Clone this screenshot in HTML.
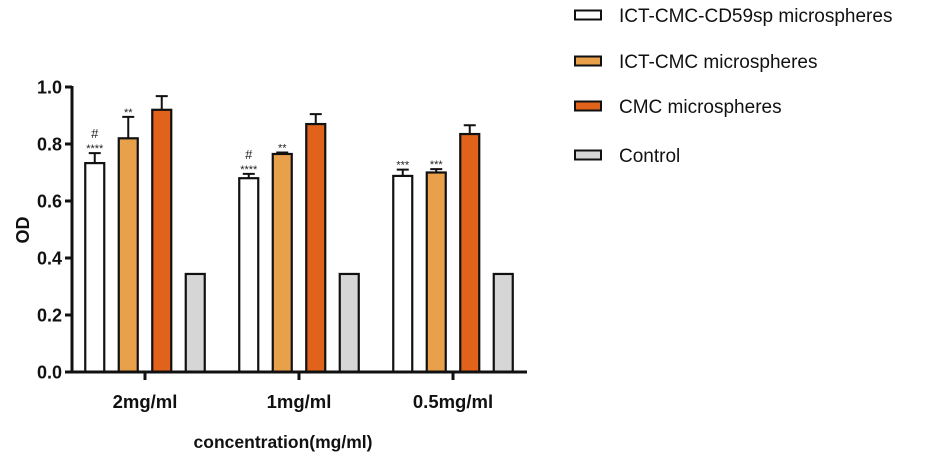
<!DOCTYPE html>
<html><head><meta charset="utf-8"><style>
html,body{margin:0;padding:0;background:#fff;}
svg{display:block;font-family:"Liberation Sans",Arial,sans-serif;}
</style></head><body>
<svg id="chart" width="949" height="466" viewBox="0 0 949 466"></svg>
<script>
const categories = ["2mg/ml","1mg/ml","0.5mg/ml"];
const seriesNames = ["ICT-CMC-CD59sp microspheres","ICT-CMC microspheres","CMC microspheres","Control"];
const seriesColors = ["#ffffff","#e8a04a","#e0621b","#d6d6d6"];
const valuesCD59 = [0.733,0.680,0.688];
const valuesICT = [0.820,0.765,0.700];
const valuesCMC = [0.920,0.870,0.835];
const valuesControl = [0.344,0.344,0.344];
const errCD59 = [0.035,0.015,0.022];
const errICT = [0.075,0.005,0.012];
const errCMC = [0.048,0.035,0.031];
const errControl = [0,0,0];
const annotations = [["#\n****","**","",""],["#\n****","**","",""],["***","***","",""]];
const yTicks = [0,0.2,0.4,0.6,0.8,1.0];
const yTickLabels = ["0.0","0.2","0.4","0.6","0.8","1.0"];

const allVals=[valuesCD59,valuesICT,valuesCMC,valuesControl];
const allErr=[errCD59,errICT,errCMC,errControl];
const NS="http://www.w3.org/2000/svg";
const svg=document.getElementById('chart');
const y0=372, yTop=87, xL=72, xR=527;
const yScale=v=>y0-(v/1.0)*(y0-yTop);
const groupCenter=i=>145+i*154;
const barW=19, pitch=33.5;
const barX=(g,s)=>groupCenter(g)+(s-1.5)*pitch-barW/2;
function mk(tag,attrs,parent){const e=document.createElementNS(NS,tag);for(const k in attrs)e.setAttribute(k,attrs[k]);(parent||svg).appendChild(e);return e;}

categories.forEach((c,g)=>{
  allVals.forEach((arr,s)=>{
    const x=barX(g,s), v=arr[g], yt=yScale(v);
    const b=mk('rect',{x:x,y:yt,width:barW,height:y0-yt,fill:seriesColors[s],stroke:'#111','stroke-width':2.2});
    
    
    const e=allErr[s][g];
    if(e>0){
      const cx=x+barW/2, ye=yScale(v+e);
      const eb=mk('path',{d:`M${cx},${yt} V${ye} M${cx-6},${ye} H${cx+6}`,stroke:'#111','stroke-width':2,fill:'none'});
      
      
    }
    const a=annotations[g][s];
    if(a){
      const top=yScale(v+e);
      const lines=a.split("\n");
      lines.forEach((ln,i)=>{
        const yy=top-4-(lines.length-1-i)*11;
        const isStar=ln[0]==='*';
        const t=mk('text',{x:x+barW/2,y:isStar?yy+3:yy,'text-anchor':'middle','font-size':isStar?11:13,fill:'#222'});
        t.textContent=ln;
        
        
      });
    }
  });
  const tk=mk('line',{x1:groupCenter(g),x2:groupCenter(g),y1:y0,y2:y0+8,stroke:'#111','stroke-width':3});
  
  
  const tl=mk('text',{x:groupCenter(g),y:408,'text-anchor':'middle','font-size':18.5,'font-weight':'bold',fill:'#111'});
  tl.textContent=c;
  
  
});

const ya=mk('line',{x1:xL,x2:xL,y1:yTop-1,y2:y0+1.5,stroke:'#111','stroke-width':3});

const xa=mk('line',{x1:xL-1.5,x2:xR,y1:y0,y2:y0,stroke:'#111','stroke-width':3});

yTicks.forEach((t,i)=>{
  const yy=yScale(t);
  const l=mk('line',{x1:xL-7,x2:xL,y1:yy,y2:yy,stroke:'#111','stroke-width':3});
  
  const tx=mk('text',{x:xL-10,y:yy+6.5,'text-anchor':'end','font-size':18,'font-weight':'bold',fill:'#111'});
  tx.textContent=yTickLabels[i];
  
});
const yt=mk('text',{x:0,y:0,transform:'translate(29,230) rotate(-90)','text-anchor':'middle','font-size':18,'font-weight':'bold',fill:'#111'});
yt.textContent='OD';
const xt=mk('text',{x:283,y:448,'text-anchor':'middle','font-size':17.5,'font-weight':'bold',fill:'#111'});
xt.textContent='concentration(mg/ml)';

const legY=[15,61,106,155];
seriesNames.forEach((n,s)=>{
  const r=mk('rect',{x:575,y:legY[s]-4.5,width:26,height:9,fill:seriesColors[s],stroke:'#111','stroke-width':2});
  
  const t=mk('text',{x:619,y:legY[s]+7,'font-size':19,fill:'#111'});
  t.textContent=n;
});
</script>
</body></html>
